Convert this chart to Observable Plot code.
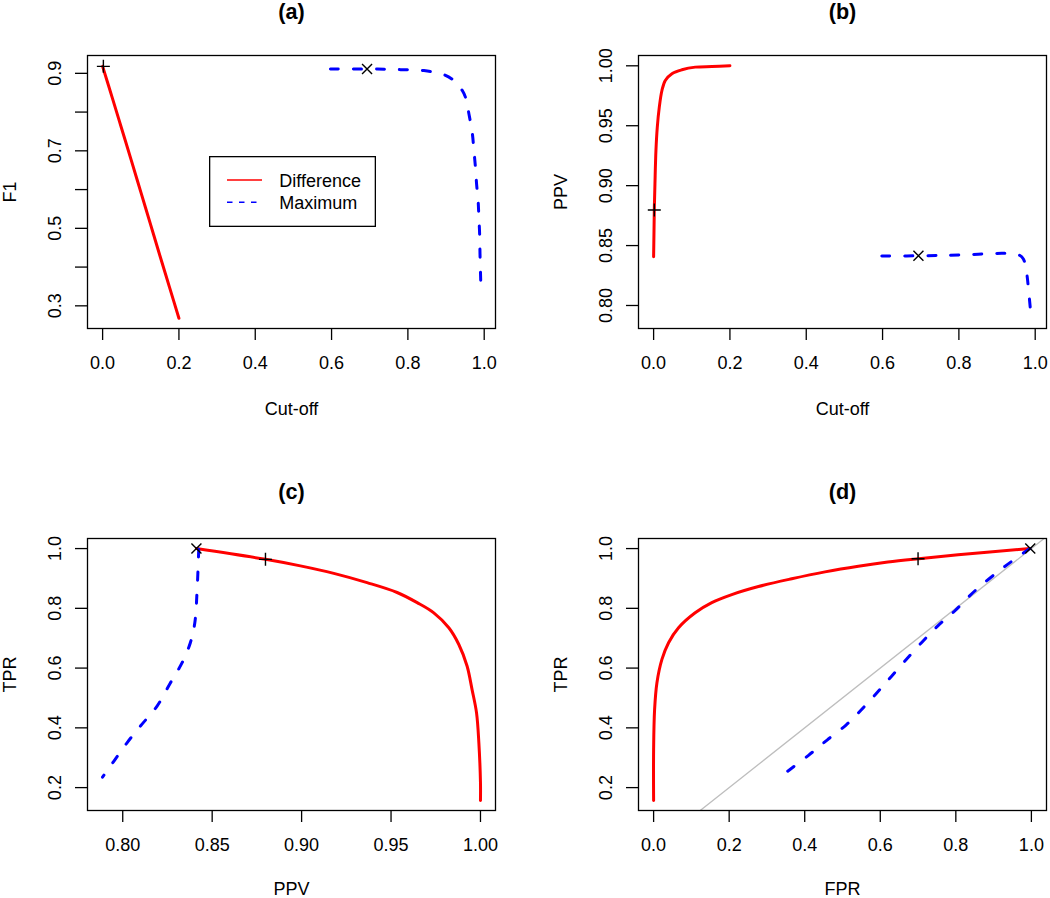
<!DOCTYPE html>
<html>
<head>
<meta charset="utf-8">
<script src="https://cdn.jsdelivr.net/npm/d3@7"></script>
<script src="https://cdn.jsdelivr.net/npm/@observablehq/plot@0.6"></script>
<style>
  html, body { margin: 0; padding: 0; background: #fff; }
  #root { position: relative; width: 1050px; height: 898px; overflow: hidden;
          font-family: "Liberation Sans", Arial, Helvetica, sans-serif; }
  .panel { position: absolute; width: 525px; height: 449px; }
  .panel svg { overflow: visible; }
  #legend { position: absolute; left: 209px; top: 156px; }
</style>
</head>
<body>
<div id="root"></div>
<script>
// ---------------- Data ----------------
// Panel (a): F1 vs cut-off
const aDiffCut = [0, 0.025, 0.05, 0.075, 0.1, 0.125, 0.15, 0.175, 0.2];
const aDiffF1  = [0.918, 0.838, 0.757, 0.676, 0.594, 0.512, 0.430, 0.349, 0.268];
const aMaxCut  = [0.597, 0.720, 0.781, 0.842, 0.894, 0.921, 0.943, 0.951, 0.960, 0.969, 0.973, 0.977, 0.980, 0.984, 0.986, 0.988, 0.989, 0.991];
const aMaxF1   = [0.911, 0.911, 0.9095, 0.907, 0.8966, 0.881, 0.855, 0.838, 0.795, 0.744, 0.701, 0.658, 0.615, 0.572, 0.529, 0.486, 0.434, 0.360];
const aPlus    = {x: 0.002, y: 0.918};
const aTimes   = {x: 0.693, y: 0.911};

// Panel (b): PPV vs cut-off
const bDiffCut = [0, 0.0009, 0.0018, 0.0035, 0.0061, 0.0096, 0.0149, 0.0218, 0.0306, 0.048, 0.0742, 0.1092, 0.153, 0.2];
const bDiffPPV = [0.8407, 0.8597, 0.8797, 0.9014, 0.9293, 0.9487, 0.9655, 0.9794, 0.9878, 0.9934, 0.9967, 0.9989, 0.9994, 1.0];
const bMaxCut  = [0.598, 0.712, 0.799, 0.921, 0.956, 0.969, 0.978, 0.982, 0.987, 0.990];
const bMaxPPV  = [0.8413, 0.8415, 0.8421, 0.8435, 0.8424, 0.8388, 0.8262, 0.8150, 0.7983, 0.7893];
const bPlus    = {x: 0.0018, y: 0.8797};
const bTimes   = {x: 0.694, y: 0.8415};

// Panel (c): TPR vs PPV
const cDiffPPV = [0.8412, 0.8798, 0.8993, 0.918, 0.9366, 0.9534, 0.9646, 0.9739, 0.9823, 0.9879, 0.9925, 0.9953, 0.9978, 0.9991, 1.0, 1.0];
const cDiffTPR = [1.0, 0.964, 0.942, 0.917, 0.886, 0.853, 0.819, 0.785, 0.735, 0.679, 0.607, 0.528, 0.450, 0.350, 0.216, 0.157];
const cMaxPPV  = [0.8425, 0.8416, 0.8403, 0.8378, 0.8332, 0.8267, 0.8192, 0.8099, 0.8024, 0.795, 0.7887];
const cMaxTPR  = [0.998, 0.864, 0.752, 0.685, 0.618, 0.551, 0.473, 0.406, 0.350, 0.288, 0.235];
const cPlus    = {x: 0.8798, y: 0.964};
const cTimes   = {x: 0.8412, y: 1.0};

// Panel (d): TPR vs FPR
const dDiffFPR = [0, 0, 0.0026, 0.0088, 0.022, 0.0396, 0.066, 0.110, 0.154, 0.207, 0.2775, 0.3656, 0.4537, 0.5419, 0.620, 0.700, 0.806, 0.9956];
const dDiffTPR = [0.157, 0.327, 0.461, 0.551, 0.629, 0.685, 0.735, 0.785, 0.819, 0.846, 0.873, 0.899, 0.922, 0.941, 0.955, 0.966, 0.979, 1.0];
const dMaxFPR  = [0.355, 0.41, 0.46, 0.51, 0.5419, 0.586, 0.630, 0.709, 0.753, 0.797, 0.850, 0.9295, 0.996];
const dMaxTPR  = [0.255, 0.308, 0.36, 0.41, 0.45, 0.51, 0.573, 0.685, 0.742, 0.791, 0.858, 0.940, 1.0];
const dPlus    = {x: 0.700, y: 0.966};
const dTimes   = {x: 0.997, y: 1.0};
const dDiagonal = {intercept: 0, slope: 1};

// Ticks and labels
const cutTicks   = [0, 0.2, 0.4, 0.6, 0.8, 1.0];
const cutLabels  = ["0.0", "0.2", "0.4", "0.6", "0.8", "1.0"];
const f1Ticks    = [0.3, 0.4, 0.5, 0.6, 0.7, 0.8, 0.9];
const f1Labels   = ["0.3", "", "0.5", "", "0.7", "", "0.9"];
const ppvTicks   = [0.80, 0.85, 0.90, 0.95, 1.00];
const ppvLabels  = ["0.80", "0.85", "0.90", "0.95", "1.00"];
const tprTicks   = [0.2, 0.4, 0.6, 0.8, 1.0];
const tprLabels  = ["0.2", "0.4", "0.6", "0.8", "1.0"];
const fprTicks   = [0, 0.2, 0.4, 0.6, 0.8, 1.0];
const fprLabels  = ["0.0", "0.2", "0.4", "0.6", "0.8", "1.0"];

const seriesNames = ["Difference", "Maximum"];
const RED = "#FF0000", BLUE = "#0000FF";
const FONT = "'Liberation Sans', Arial, Helvetica, sans-serif";

// ---------------- Symbols ----------------
const plusSymbol = {draw(ctx, size) { const r = Math.sqrt(size / Math.PI);
  ctx.moveTo(-r, 0); ctx.lineTo(r, 0); ctx.moveTo(0, -r); ctx.lineTo(0, r); }};
const timesSymbol = {draw(ctx, size) { const r = Math.sqrt(size / Math.PI);
  ctx.moveTo(-r, -r); ctx.lineTo(r, r); ctx.moveTo(-r, r); ctx.lineTo(r, -r); }};

const zip = (xs, ys) => xs.map((x, i) => ({x, y: ys[i]}));
const fmt = (ticks, labels) => (d) => { const i = ticks.findIndex(t => Math.abs(t - d) < 1e-9); return i < 0 ? "" : labels[i]; };

function panel(o) {
  const marks = [];
  if (o.diagonal) {
    const [x0, x1] = o.xDomain;
    const pts = [x0, x1].map(x => ({x, y: o.diagonal.intercept + o.diagonal.slope * x}));
    marks.push(Plot.line(pts, {x: "x", y: "y", stroke: "#BEBEBE", strokeWidth: 1.3, clip: true}));
  }
  marks.push(
    Plot.line(zip(o.diffX, o.diffY), {x: "x", y: "y", stroke: RED, strokeWidth: 3, curve: "catmull-rom",
      strokeLinecap: "round", strokeLinejoin: "round"}),
    Plot.line(zip(o.maxX, o.maxY), {x: "x", y: "y", stroke: BLUE, strokeWidth: 3, curve: "catmull-rom",
      strokeDasharray: "8,15", strokeLinecap: "round", strokeLinejoin: "round"}),
    Plot.dot([o.plus], {x: "x", y: "y", symbol: plusSymbol, r: 6.5, stroke: "black", fill: "none", strokeWidth: 1.4}),
    Plot.dot([o.times], {x: "x", y: "y", symbol: timesSymbol, r: 5, stroke: "black", fill: "none", strokeWidth: 1.4}),
    Plot.frame({stroke: "black", strokeWidth: 1.3}),
    Plot.axisX(o.xTicks, {tickSize: 12, tickPadding: 16, fontSize: 18, strokeWidth: 1.3,
      tickFormat: fmt(o.xTicks, o.xLabels), label: null}),
    Plot.axisY(o.yTicks, {tickSize: 12, tickPadding: 15, tickRotate: -90, fontSize: 18, strokeWidth: 1.3,
      tickFormat: fmt(o.yTicks, o.yLabels), label: null}),
    Plot.text([o.title], {frameAnchor: "top", dy: o.titleDy, fontSize: 21.6, fontWeight: "bold",
      textAnchor: "middle", lineAnchor: "middle"}),
    Plot.text([o.xLabel], {frameAnchor: "bottom", dy: o.xLabelDy, fontSize: 18, textAnchor: "middle", lineAnchor: "middle"}),
    Plot.text([o.yLabel], {frameAnchor: "left", dx: -72, rotate: -90, fontSize: 18, textAnchor: "middle", lineAnchor: "bottom"})
  );
  return Plot.plot({
    width: 525, height: 449,
    marginTop: o.m[0], marginRight: o.m[1], marginBottom: o.m[2], marginLeft: o.m[3],
    x: {domain: o.xDomain}, y: {domain: o.yDomain},
    style: {fontFamily: FONT, fontSize: "18px", color: "black", background: "transparent", overflow: "visible"},
    marks
  });
}

const root = document.getElementById("root");
const specs = [
  {pos: [0, 0], m: [55, 30, 121, 87], title: "(a)", titleDy: -43.3, xLabel: "Cut-off", xLabelDy: 80.5, yLabel: "F1",
   xDomain: [-0.0396, 1.0296], yDomain: [0.2415, 0.946], xTicks: cutTicks, xLabels: cutLabels, yTicks: f1Ticks, yLabels: f1Labels,
   diffX: aDiffCut, diffY: aDiffF1, maxX: aMaxCut, maxY: aMaxF1, plus: aPlus, times: aTimes},
  {pos: [525, 0], m: [55, 4, 121, 113], title: "(b)", titleDy: -43.3, xLabel: "Cut-off", xLabelDy: 80.5, yLabel: "PPV",
   xDomain: [-0.0396, 1.0296], yDomain: [0.7808, 1.0086], xTicks: cutTicks, xLabels: cutLabels, yTicks: ppvTicks, yLabels: ppvLabels,
   diffX: bDiffCut, diffY: bDiffPPV, maxX: bMaxCut, maxY: bMaxPPV, plus: bPlus, times: bTimes},
  {pos: [0, 449], m: [89, 30, 88, 87], title: "(c)", titleDy: -46, xLabel: "PPV", xLabelDy: 78.5, yLabel: "TPR",
   xDomain: [0.7803, 1.0084], yDomain: [0.1234, 1.0337], xTicks: ppvTicks, xLabels: ppvLabels, yTicks: tprTicks, yLabels: tprLabels,
   diffX: cDiffPPV, diffY: cDiffTPR, maxX: cMaxPPV, maxY: cMaxTPR, plus: cPlus, times: cTimes},
  {pos: [525, 449], m: [89, 4, 88, 113], title: "(d)", titleDy: -46, xLabel: "FPR", xLabelDy: 78.5, yLabel: "TPR",
   xDomain: [-0.04, 1.04], yDomain: [0.1234, 1.0337], xTicks: fprTicks, xLabels: fprLabels, yTicks: tprTicks, yLabels: tprLabels,
   diffX: dDiffFPR, diffY: dDiffTPR, maxX: dMaxFPR, maxY: dMaxTPR, plus: dPlus, times: dTimes, diagonal: dDiagonal}
];
for (const s of specs) {
  const div = document.createElement("div");
  div.className = "panel";
  div.style.left = s.pos[0] + "px";
  div.style.top = s.pos[1] + "px";
  div.appendChild(panel(s));
  root.appendChild(div);
}

// Legend in panel (a)
const lg = d3.select(root).append("svg").attr("id", "legend")
  .attr("width", 168).attr("height", 72).style("overflow", "visible");
lg.append("rect").attr("x", 0.65).attr("y", 0.65).attr("width", 165.7).attr("height", 69.7)
  .attr("fill", "white").attr("stroke", "black").attr("stroke-width", 1.3);
const rows = [{name: seriesNames[0], color: RED, dash: null, ly: 24, ty: 30.7},
              {name: seriesNames[1], color: BLUE, dash: "5.5,6.5", ly: 46.3, ty: 53.3}];
for (const r of rows) {
  lg.append("line").attr("x1", 18).attr("x2", 53).attr("y1", r.ly).attr("y2", r.ly)
    .attr("stroke", r.color).attr("stroke-width", 1.4).attr("stroke-dasharray", r.dash);
  lg.append("text").attr("x", 70.3).attr("y", r.ty).attr("font-size", 18)
    .attr("font-family", FONT).attr("fill", "black").text(r.name);
}
</script>
</body>
</html>
